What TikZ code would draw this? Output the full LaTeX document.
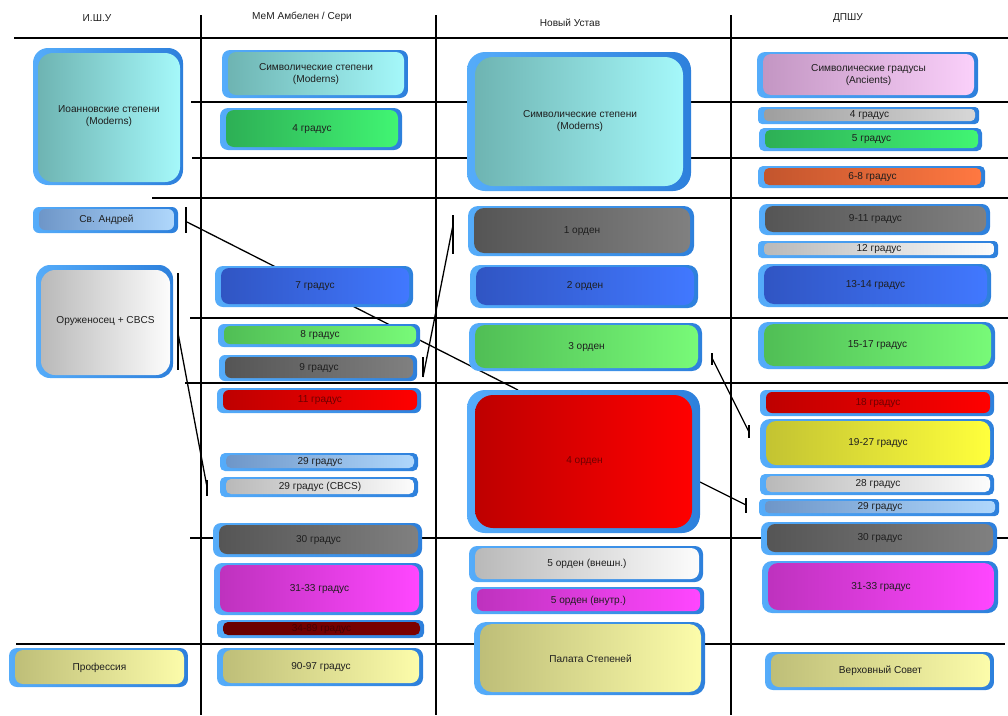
\documentclass[tikz,border=0pt]{standalone}
\usepackage{fontspec}
\setmainfont{Liberation Sans}
\usetikzlibrary{fit,calc}
\pgfdeclarelayer{background}
\pgfsetlayers{background,main}
\definecolor{frmL}{RGB}{85,172,250}
\definecolor{frmR}{RGB}{45,128,220}
\definecolor{cyanL}{RGB}{110,180,178}\definecolor{cyanR}{RGB}{165,248,250}
\definecolor{greenL}{RGB}{45,175,85}\definecolor{greenR}{RGB}{65,245,115}
\definecolor{lavL}{RGB}{195,150,195}\definecolor{lavR}{RGB}{250,208,250}
\definecolor{grayL}{RGB}{158,158,158}\definecolor{grayR}{RGB}{215,215,215}
\definecolor{orL}{RGB}{195,85,45}\definecolor{orR}{RGB}{255,120,65}
\definecolor{dgL}{RGB}{85,85,85}\definecolor{dgR}{RGB}{128,128,128}
\definecolor{lgL}{RGB}{185,185,185}\definecolor{lgR}{RGB}{252,252,252}
\definecolor{blL}{RGB}{48,85,195}\definecolor{blR}{RGB}{65,120,255}
\definecolor{lgrL}{RGB}{80,190,85}\definecolor{lgrR}{RGB}{120,250,120}
\definecolor{rdL}{RGB}{190,0,0}\definecolor{rdR}{RGB}{255,0,0}
\definecolor{sbL}{RGB}{110,150,200}\definecolor{sbR}{RGB}{175,215,252}
\definecolor{ylL}{RGB}{195,195,50}\definecolor{ylR}{RGB}{255,255,60}
\definecolor{mgL}{RGB}{190,50,190}\definecolor{mgR}{RGB}{255,70,255}
\definecolor{drL}{RGB}{105,0,0}\definecolor{drR}{RGB}{125,0,0}
\definecolor{khL}{RGB}{190,190,120}\definecolor{khR}{RGB}{252,252,170}
\definecolor{txt}{RGB}{30,30,30}
\definecolor{txtred}{RGB}{110,0,0}
\definecolor{txtdred}{RGB}{70,0,0}
\def\gbInsL{6}\def\gbInsT{2}\def\gbInsR{4}\def\gbInsB{3}
\newcommand\gbox[9]{%
  \node[frame, rounded corners=#8pt, fit={(#2,#3) (#4,#5)}] (#1) {};
  \shade[left color=#6, right color=#7, rounded corners=#8pt]
    ($(#1.north west)+(\gbInsL,\gbInsT)$) rectangle ($(#1.south east)+(-\gbInsR,-\gbInsB)$);
  \node[lbl] at ($(#1.center)+(1,0)$) {#9};
}
\tikzset{
  frame/.style={inner sep=0pt, outer sep=0pt, draw=none, left color=frmL, right color=frmR},
  lbl/.style={font=\fontsize{10.1}{12}\selectfont, align=center, text=txt, inner sep=0pt},
  hdr/.style={font=\fontsize{10.1}{12}\selectfont, text=txt, inner sep=0pt},
  grid/.style={line width=1.3pt, black},
  conn/.style={line width=1.3pt, black}
}
\begin{document}
\begin{tikzpicture}[x=1pt,y=-1pt]
\useasboundingbox (0,0) rectangle (1008,715);
% headers
\node[hdr] (h1) at (97,18) {И.Ш.У};
\node[hdr] (h2) at (302,17) {МеМ Амбелен / Сери};
\node[hdr] (h3) at (570,23) {Новый Устав};
\node[hdr] (h4) at (848,18) {ДПШУ};
% big boxes
\def\gbInsL{5}\def\gbInsT{5}\def\gbInsR{3}\def\gbInsB{3}
\gbox{iosh}{33}{48}{183}{185}{cyanL}{cyanR}{15}{Иоанновские степени\\(Moderns)}
\gbox{oruzh}{36}{265}{173}{378}{lgL}{lgR}{14}{Оруженосец + CBCS}
\def\gbInsL{8}\def\gbInsT{5}\def\gbInsR{8}\def\gbInsB{5}
\gbox{c3sym}{467}{52}{691}{191}{cyanL}{cyanR}{18}{Символические степени\\(Moderns)}
\gbox{o4}{467}{390}{700}{533}{rdL}{rdR}{18}{\color{txtred}4 орден}
\def\gbInsL{6}\def\gbInsT{2}\def\gbInsR{4}\def\gbInsB{3}
% column 1
\gbox{andr}{33}{207}{178}{233}{sbL}{sbR}{6}{Св. Андрей}
\gbox{prof}{9}{648}{188}{687}{khL}{khR}{8}{Профессия}
% column 2
\gbox{c2sym}{222}{50}{408}{98}{cyanL}{cyanR}{8}{Символические степени\\(Moderns)}
\gbox{c2g4}{220}{108}{402}{150}{greenL}{greenR}{8}{4 градус}
\gbox{c2g7}{215}{266}{413}{307}{blL}{blR}{8}{7 градус}
\gbox{c2g8}{218}{324}{420}{347}{lgrL}{lgrR}{6}{8 градус}
\gbox{c2g9}{219}{355}{417}{381}{dgL}{dgR}{6}{9 градус}
\gbox{c2g11}{217}{388}{421}{413}{rdL}{rdR}{6}{\color{txtred}11 градус}
\gbox{c2g29}{220}{453}{418}{471}{sbL}{sbR}{5}{29 градус}
\gbox{c2g29c}{220}{477}{418}{497}{lgL}{lgR}{5}{29 градус (CBCS)}
\gbox{c2g30}{213}{523}{422}{557}{dgL}{dgR}{8}{30 градус}
\gbox{c2g31}{214}{563}{423}{615}{mgL}{mgR}{8}{31-33 градус}
\gbox{c2g34}{217}{620}{424}{638}{drL}{drR}{5}{\color{txtdred}34-89 градус}
\gbox{c2g90}{217}{648}{423}{686}{khL}{khR}{8}{90-97 градус}
% column 3
\gbox{o1}{468}{206}{694}{256}{dgL}{dgR}{10}{1 орден}
\gbox{o2}{470}{265}{698}{308}{blL}{blR}{10}{2 орден}
\gbox{o3}{469}{323}{702}{371}{lgrL}{lgrR}{10}{3 орден}
\gbox{o5a}{469}{546}{703}{582}{lgL}{lgR}{8}{5 орден (внешн.)}
\gbox{o5b}{471}{587}{704}{614}{mgL}{mgR}{6}{5 орден (внутр.)}
\gbox{pal}{474}{622}{705}{695}{khL}{khR}{12}{Палата Степеней}
% column 4
\gbox{c4sym}{757}{52}{978}{98}{lavL}{lavR}{8}{Символические градусы\\(Ancients)}
\gbox{d4}{758}{107}{979}{124}{grayL}{grayR}{4}{4 градус}
\gbox{d5}{759}{128}{982}{151}{greenL}{greenR}{5}{5 градус}
\gbox{d68}{758}{166}{985}{188}{orL}{orR}{5}{6-8 градус}
\gbox{d911}{759}{204}{990}{235}{dgL}{dgR}{8}{9-11 градус}
\gbox{d12}{758}{241}{998}{258}{lgL}{lgR}{4}{12 градус}
\gbox{d1314}{758}{264}{991}{307}{blL}{blR}{10}{13-14 градус}
\gbox{d1517}{758}{322}{995}{369}{lgrL}{lgrR}{10}{15-17 градус}
\gbox{d18}{760}{390}{994}{416}{rdL}{rdR}{6}{\color{txtred}18 градус}
\gbox{d1927}{760}{419}{994}{468}{ylL}{ylR}{10}{19-27 градус}
\gbox{d28}{760}{474}{994}{495}{lgL}{lgR}{5}{28 градус}
\gbox{d29}{759}{499}{999}{516}{sbL}{sbR}{4}{29 градус}
\gbox{d30}{761}{522}{997}{555}{dgL}{dgR}{8}{30 градус}
\gbox{d3133}{762}{561}{998}{613}{mgL}{mgR}{10}{31-33 градус}
\gbox{verh}{765}{652}{994}{690}{khL}{khR}{8}{Верховный Совет}
% connector end points
\coordinate (a1) at (186,207); \coordinate (a2) at (186,233); \coordinate (am) at (187,222);
\coordinate (o4top) at (518,390);
\coordinate (b1) at (178,273); \coordinate (b2) at (178,370); \coordinate (bm) at (178,333);
\coordinate (b3) at (207,480); \coordinate (b4) at (207,496); \coordinate (bn) at (207,487);
\coordinate (c1) at (453,215); \coordinate (c2) at (453,254); \coordinate (cm) at (453,225);
\coordinate (c3) at (423,357); \coordinate (c4) at (423,377); \coordinate (cn) at (423,377);
\coordinate (d1) at (712,353); \coordinate (d2) at (712,365); \coordinate (dm) at (712,358);
\coordinate (d3) at (749,425); \coordinate (d4b) at (749,438); \coordinate (dn) at (749,432);
\coordinate (e0) at (700,482);
\coordinate (e1) at (746,498); \coordinate (e2) at (746,513); \coordinate (en) at (746,505);
\begin{pgfonlayer}{background}
% grid
\draw[grid] (14,38) -- (1008,38);
\draw[grid] (191,102) -- (1008,102);
\draw[grid] (192,158) -- (1008,158);
\draw[grid] (152,198) -- (1008,198);
\draw[grid] (190,318) -- (1008,318);
\draw[grid] (185,383) -- (1008,383);
\draw[grid] (190,538) -- (1008,538);
\draw[grid] (16,644) -- (1005,644);
\draw[grid] (201,15) -- (201,715);
\draw[grid] (436,15) -- (436,715);
\draw[grid] (731,15) -- (731,715);
% connectors
\draw[conn] (am) -- (o4top);
\draw[conn] (bm) -- (bn);
\draw[conn] (cm) -- (cn);
\draw[conn] (dm) -- (dn);
\draw[conn] (e0) -- (en);
\end{pgfonlayer}
\draw[conn] (a1) -- (a2);
\draw[conn] (b1) -- (b2);
\draw[conn] (b3) -- (b4);
\draw[conn] (c1) -- (c2);
\draw[conn] (c3) -- (c4);
\draw[conn] (d1) -- (d2);
\draw[conn] (d3) -- (d4b);
\draw[conn] (e1) -- (e2);
\end{tikzpicture}
\end{document}
